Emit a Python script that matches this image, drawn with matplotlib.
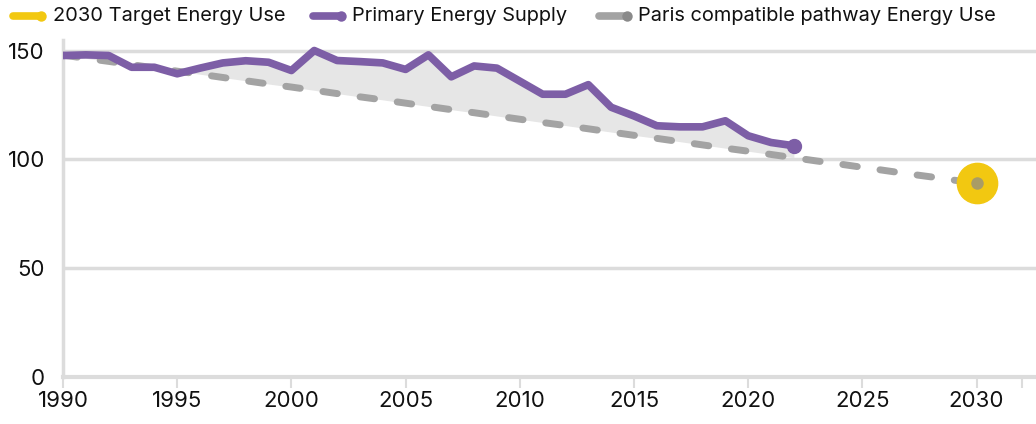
import matplotlib.pyplot as plt
from matplotlib.lines import Line2D

plt.rcParams['font.family'] = ['Inter', 'DejaVu Sans']

# =====================================================
# DATA
# =====================================================

years = list(range(1990, 2023))

primary_supply = [
    147.8, 148.1, 147.8, 142.4, 142.4, 139.4, 142.0, 144.4, 145.4, 144.7,
    140.9, 150.1, 145.5, 145.0, 144.4, 141.4, 148.1, 138.0, 143.0, 142.0,
    136.0, 130.0, 130.0, 134.4, 124.0, 120.0, 115.5, 115.0, 115.0, 117.8,
    110.9, 107.8, 106.3
]

pathway_years = list(range(1990, 2031))

paris_pathway = [
    148.0, 146.5, 145.1, 143.6, 142.1, 140.6, 139.2, 137.7, 136.2, 134.7,
    133.3, 131.8, 130.3, 128.8, 127.4, 125.9, 124.4, 122.9, 121.5, 120.0,
    118.5, 117.0, 115.6, 114.1, 112.6, 111.1, 109.7, 108.2, 106.7, 105.2,
    103.8, 102.3, 100.8, 99.3, 97.9, 96.4, 94.9, 93.4, 92.0, 90.5,
    89.0
]

target_year = 2030
target_value = 89.0

labels = [
    "2030 Target Energy Use",
    "Primary Energy Supply",
    "Paris compatible pathway Energy Use",
]

# =====================================================
# COLOURS
# =====================================================

purple = "#7d5ea6"
gold = "#f2c811"
grey = "#a3a3a3"
dot_grey = "#8a8a8a"
grid_grey = "#dcdcdc"

# =====================================================
# PLOT
# =====================================================

fig = plt.figure(figsize=(10.36, 4.24), dpi=100)
ax = fig.add_axes([0.0608, 0.111, 0.9392, 0.795])

n = len(years)
ax.fill_between(years, primary_supply, paris_pathway[:n],
                color="#e6e6e6", zorder=1, lw=0)

ax.plot(pathway_years, paris_pathway, color=grey, lw=5,
        dashes=(2.1, 3.3), dash_capstyle="round", zorder=3)

ax.plot(years, primary_supply, color=purple, lw=5.5,
        solid_joinstyle="round", solid_capstyle="round", zorder=4)
ax.plot(years[-1], primary_supply[-1], "o", color=purple,
        markersize=10, zorder=5)

ax.plot(target_year, target_value, "o", color=gold,
        markersize=29, zorder=5)
ax.plot(target_year, target_value, "o", color=dot_grey, alpha=0.7,
        markersize=9, markeredgewidth=0, zorder=6)

# =====================================================
# AXES STYLE
# =====================================================

ax.set_xlim(1990, 2032.6)
ax.set_ylim(0, 155)

ax.set_yticks([0, 50, 100, 150])
ax.set_xticks(list(range(1990, 2031, 5)) + [2032])
ax.set_xticklabels([str(y) for y in range(1990, 2031, 5)] + [""])

ax.grid(axis="y", color=grid_grey, lw=2.5, zorder=0)
ax.set_axisbelow(True)

for side in ["top", "right"]:
    ax.spines[side].set_visible(False)
ax.spines["left"].set_color(grid_grey)
ax.spines["left"].set_linewidth(2.5)
ax.spines["bottom"].set_color(grid_grey)
ax.spines["bottom"].set_linewidth(3)

ax.tick_params(axis="y", length=0, pad=13, labelsize=16, colors="#111111")
ax.tick_params(axis="x", length=8, width=1.5, color=grid_grey,
               labelsize=16, pad=2, labelcolor="#111111")

# =====================================================
# LEGEND (drawn by hand: line with dot at right end)
# =====================================================

legend_colors = [(gold, gold), (purple, purple), (grey, dot_grey)]
legend_x = [0.013, 0.302, 0.578]   # left edge of each handle, figure coords
legend_y = 0.962
handle_w = 0.027

for (lc, dc), x0, text in zip(legend_colors, legend_x, labels):
    fig.add_artist(Line2D([x0, x0 + handle_w], [legend_y, legend_y],
                          color=lc, lw=5.5, solid_capstyle="round",
                          transform=fig.transFigure))
    fig.add_artist(Line2D([x0 + handle_w], [legend_y], marker="o",
                          color=dc, markersize=7.5, markeredgewidth=0,
                          transform=fig.transFigure))
    fig.text(x0 + handle_w + 0.011, legend_y, text, fontsize=14.4,
             va="center", ha="left", color="#111111")

fig.savefig("out.png", dpi=100)
